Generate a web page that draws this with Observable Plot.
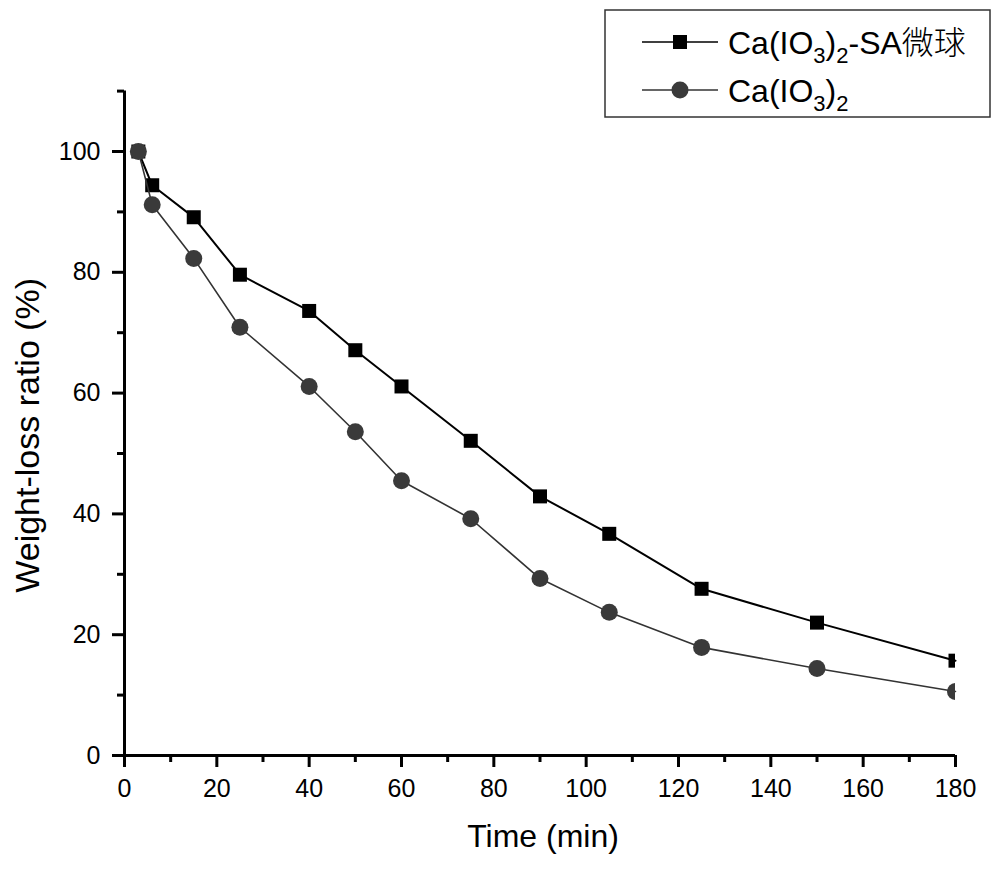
<!DOCTYPE html>
<html><head><meta charset="utf-8">
<script src="https://cdn.jsdelivr.net/npm/d3@7"></script>
<script src="https://cdn.jsdelivr.net/npm/@observablehq/plot@0.6"></script>
<style>body{margin:0;background:#fff}</style>
</head><body><div id="chart"></div>
<script>
const time = [3, 6, 15, 25, 40, 50, 60, 75, 90, 105, 125, 150, 180];
const saMicrosphere = [100, 94.4, 89.1, 79.6, 73.6, 67.1, 61.1, 52.1, 42.9, 36.7, 27.6, 22.0, 15.7];
const caIodate = [100, 91.2, 82.3, 70.9, 61.1, 53.6, 45.5, 39.2, 29.3, 23.7, 17.9, 14.4, 10.6];
const xMajor = [0, 20, 40, 60, 80, 100, 120, 140, 160, 180];
const xMinor = [10, 30, 50, 70, 90, 110, 130, 150, 170];
const yMajor = [0, 20, 40, 60, 80, 100];
const yMinor = [10, 30, 50, 70, 90, 110];
const xTitle = "Time (min)";
const yTitle = "Weight-loss ratio (%)";

const rows = time.map((t, i) => ({t, sa: saMicrosphere[i], ca: caIodate[i]}));
const font = "'Liberation Sans', Arial, Helvetica, sans-serif";

const plot = Plot.plot({
  width: 1000, height: 869,
  marginLeft: 124, marginRight: 45, marginTop: 90.6, marginBottom: 114,
  x: {domain: [0, 180]},
  y: {domain: [0, 110]},
  style: {fontFamily: font, fontSize: "25px", color: "#000", background: "#fff"},
  marks: [
    Plot.axisX(xMajor, {tickSize: 12, tickPadding: 12, strokeWidth: 3, label: null, tickFormat: d => String(d)}),
    Plot.axisX(xMinor, {tickSize: 7, strokeWidth: 3, label: null, tickFormat: () => ""}),
    Plot.axisY(yMajor, {tickSize: 12, tickPadding: 12, strokeWidth: 3, label: null, tickFormat: d => String(d)}),
    Plot.axisY(yMinor, {tickSize: 7, strokeWidth: 3, label: null, tickFormat: () => ""}),
    Plot.ruleY([0], {strokeWidth: 3, stroke: "#000"}),
    Plot.ruleX([0], {strokeWidth: 3, stroke: "#000"}),
    Plot.line(rows, {x: "t", y: "sa", stroke: "#000", strokeWidth: 2}),
    Plot.dot(rows, {x: "t", y: "sa", symbol: "square", r: 7.9, fill: "#000", clip: true}),
    Plot.line(rows, {x: "t", y: "ca", stroke: "#333", strokeWidth: 1.6}),
    Plot.dot(rows, {x: "t", y: "ca", symbol: "circle", r: 8.5, fill: "#3a3a3a", clip: true}),
    Plot.text([xTitle], {text: d => d, frameAnchor: "bottom", lineAnchor: "middle", textAnchor: "middle", dy: 81, dx: 3, fontSize: 32}),
    Plot.text([yTitle], {text: d => d, frameAnchor: "left", lineAnchor: "middle", textAnchor: "middle", rotate: -90, dx: -96, dy: 12, fontSize: 34})
  ]
});
document.getElementById("chart").appendChild(plot);

// Legend
const svg = d3.select(plot);
const lg = svg.append("g").attr("font-family", font).attr("font-size", 32).attr("fill", "#000").attr("text-anchor", "start");
lg.append("rect").attr("x", 605).attr("y", 10).attr("width", 385).attr("height", 107)
  .attr("fill", "#fff").attr("stroke", "#333").attr("stroke-width", 1.5);
const entries = [
  {y: 42, stroke: "#000", fill: "#000", symbol: "square", parts: ["Ca(IO", "3", ")", "2", "-SA", "微球"]},
  {y: 90, stroke: "#333", fill: "#3a3a3a", symbol: "circle", parts: ["Ca(IO", "3", ")", "2"]}
];
for (const e of entries) {
  lg.append("line").attr("x1", 642).attr("x2", 718).attr("y1", e.y).attr("y2", e.y)
    .attr("stroke", e.stroke).attr("stroke-width", 1.5);
  if (e.symbol === "square") {
    lg.append("rect").attr("x", 673).attr("y", e.y - 7).attr("width", 14).attr("height", 14).attr("fill", e.fill);
  } else {
    lg.append("circle").attr("cx", 680).attr("cy", e.y).attr("r", 8.5).attr("fill", e.fill);
  }
  const t = lg.append("text").attr("x", 728).attr("y", e.y + 11.5).attr("text-anchor", "start");
  e.parts.forEach((p, i) => {
    const ts = t.append("tspan").text(p);
    if (i === 1 || i === 3) ts.attr("font-size", 22).attr("dy", 9);
    else if (i === 2 || i === 4) ts.attr("dy", -9);
    if (/[\u4e00-\u9fff]/.test(p)) ts.attr("font-family", "'Noto Sans CJK SC', sans-serif").attr("font-weight", 300);
  });
}
</script>
</body></html>
